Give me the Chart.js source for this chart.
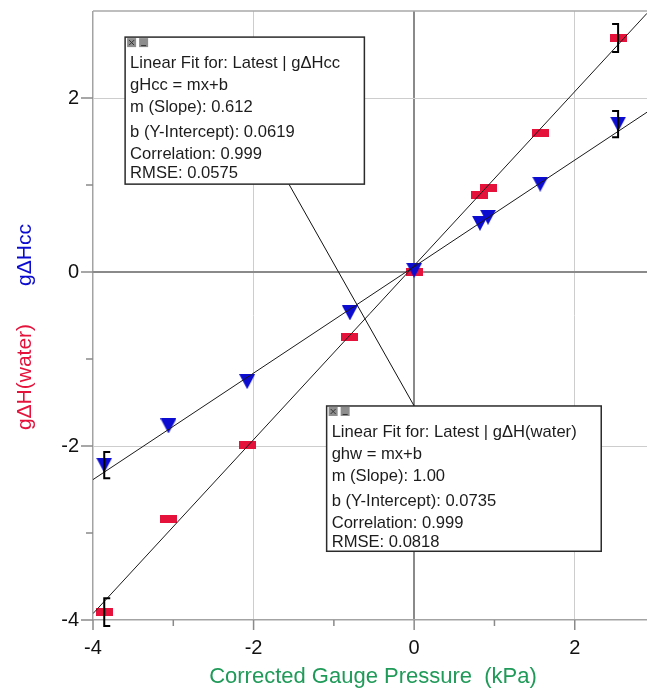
<!DOCTYPE html>
<html>
<head>
<meta charset="utf-8">
<script src="https://cdn.jsdelivr.net/npm/chart.js@4.4.1/dist/chart.umd.min.js"></script>
<style>
  html, body { margin: 0; padding: 0; background: #fff; overflow: hidden; }
  canvas { display: block; }
</style>
</head>
<body>
<canvas id="fitChart" width="647" height="693"></canvas>
<script>
// values
const pressure = [-3.86, -3.06, -2.08, -0.80, 0.00, 0.82, 0.92, 1.57, 2.54];
const ghWater  = [-3.91, -2.84, -1.99, -0.75, 0.00, 0.89, 0.96, 1.60, 2.69];
const ghCc     = [-2.22, -1.77, -1.26, -0.47, 0.02, 0.56, 0.63, 1.01, 1.70];
const errWater = [0.16, 0, 0, 0, 0, 0, 0, 0, 0.16];
const errCc    = [0.15, 0, 0, 0, 0, 0, 0, 0, 0.15];

// fits as reported in the boxes
const fitWater = { m: 1.00, b: 0.0735 };
const fitCc    = { m: 0.612, b: 0.0619 };

const xRange = [-4, 2.9];
const yRange = [-4, 3.0];
const xTicks = [-4, -2, 0, 2];
const yTicks = [-4, -2, 0, 2];
const xMinor = [-3, -1, 1];
const yMinor = [-3, -1, 1];

const ccLines = ['Linear Fit for: Latest | gΔHcc', 'gHcc = mx+b', 'm (Slope): 0.612',
    'b (Y-Intercept): 0.0619', 'Correlation: 0.999', 'RMSE: 0.0575'];
const waterLines = ['Linear Fit for: Latest | gΔH(water)', 'ghw = mx+b', 'm (Slope): 1.00',
    'b (Y-Intercept): 0.0735', 'Correlation: 0.999', 'RMSE: 0.0818'];

const FONT = '"Liberation Sans", Arial, sans-serif';
const RED = '#e5133c';
const BLUE = '#0c0cd0';
const GREEN = '#1f9a58';

// box placement in axis units
const ccBox = { x0: -3.60, x1: -0.62, y0: 2.70, y1: 1.01, lines: ccLines };
const waterBox = { x0: -1.09, x1: 2.33, y0: -1.54, y1: -3.21, lines: waterLines };
const leader = { x0: -1.56, y0: 1.01, x1: 0.0, y1: -1.54 };
const lineOffsets = [26, 48, 70.5, 95.5, 117.5, 136.5];

function rectMarker(w, h, color) {
    const c = document.createElement('canvas');
    c.width = w; c.height = h;
    const g = c.getContext('2d');
    g.fillStyle = color;
    g.fillRect(0, 0, w, h);
    return c;
}

function triMarker(w, h, color) {
    const c = document.createElement('canvas');
    c.width = w; c.height = h;
    const g = c.getContext('2d');
    g.fillStyle = color;
    g.beginPath();
    g.moveTo(0, 0); g.lineTo(w, 0); g.lineTo(w / 2, h);
    g.closePath();
    g.fill();
    return c;
}

function fitPoints(fit) {
    return xRange.map(x => ({ x: x, y: fit.m * x + fit.b }));
}

function drawBox(ctx, xs, ys, box) {
    const l = xs.getPixelForValue(box.x0), r = xs.getPixelForValue(box.x1);
    const t = ys.getPixelForValue(box.y0), b = ys.getPixelForValue(box.y1);
    ctx.fillStyle = '#fff';
    ctx.fillRect(l, t, r - l, b - t);
    ctx.strokeStyle = '#2b2b2b';
    ctx.lineWidth = 1.5;
    ctx.strokeRect(l, t, r - l, b - t);

    // little close / minimise buttons
    ctx.fillStyle = '#8e8e8e';
    ctx.fillRect(l + 2, t + 1, 9, 9);
    ctx.fillRect(l + 14, t + 1, 9, 9);
    ctx.strokeStyle = '#333';
    ctx.lineWidth = 1;
    ctx.beginPath();
    ctx.moveTo(l + 4, t + 3); ctx.lineTo(l + 9, t + 8);
    ctx.moveTo(l + 9, t + 3); ctx.lineTo(l + 4, t + 8);
    ctx.moveTo(l + 16, t + 8.5); ctx.lineTo(l + 21, t + 8.5);
    ctx.stroke();

    ctx.font = '16.6px ' + FONT;
    ctx.fillStyle = '#1c1c1c';
    ctx.textAlign = 'left';
    ctx.textBaseline = 'middle';
    box.lines.forEach((txt, i) => ctx.fillText(txt, l + 5, t + lineOffsets[i]));
}

const decorations = {
    id: 'decorations',
    afterDatasetsDraw(chart) {
        const ctx = chart.ctx;
        const ys = chart.scales.y;
        // end-point brackets
        ctx.save();
        ctx.strokeStyle = '#000';
        ctx.lineWidth = 2;
        [[0, ghWater, errWater], [1, ghCc, errCc]].forEach(([di, vals, errs]) => {
            const meta = chart.getDatasetMeta(di);
            errs.forEach((e, i) => {
                if (!e) return;
                const px = meta.data[i].x;
                const top = ys.getPixelForValue(vals[i] + e);
                const bot = ys.getPixelForValue(vals[i] - e);
                const dir = pressure[i] < 0 ? 6 : -6;
                ctx.beginPath();
                ctx.moveTo(px + dir, top); ctx.lineTo(px, top);
                ctx.lineTo(px, bot); ctx.lineTo(px + dir, bot);
                ctx.stroke();
            });
        });
        ctx.restore();
    },
    afterDraw(chart) {
        const ctx = chart.ctx;
        const xs = chart.scales.x, ys = chart.scales.y;
        const area = chart.chartArea;
        ctx.save();

        // top frame line
        ctx.strokeStyle = '#a9a9a9';
        ctx.lineWidth = 1.5;
        ctx.beginPath();
        ctx.moveTo(area.left, area.top); ctx.lineTo(area.right, area.top);
        ctx.stroke();

        // tick marks
        ctx.strokeStyle = '#8a8a8a';
        ctx.lineWidth = 1.5;
        ctx.beginPath();
        xTicks.concat(xMinor).forEach(v => {
            const px = xs.getPixelForValue(v);
            const len = xTicks.includes(v) ? 10 : 6;
            ctx.moveTo(px, area.bottom); ctx.lineTo(px, area.bottom + len);
        });
        yTicks.concat(yMinor).forEach(v => {
            const py = ys.getPixelForValue(v);
            const len = yTicks.includes(v) ? 12 : 7;
            ctx.moveTo(area.left, py); ctx.lineTo(area.left - len, py);
        });
        ctx.stroke();

        // leader line between the two fit boxes
        ctx.strokeStyle = '#111';
        ctx.lineWidth = 1;
        ctx.beginPath();
        ctx.moveTo(xs.getPixelForValue(leader.x0), ys.getPixelForValue(leader.y0));
        ctx.lineTo(xs.getPixelForValue(leader.x1), ys.getPixelForValue(leader.y1));
        ctx.stroke();

        drawBox(ctx, xs, ys, ccBox);
        drawBox(ctx, xs, ys, waterBox);

        // axis titles
        ctx.textAlign = 'center';
        ctx.textBaseline = 'middle';
        ctx.font = '22px ' + FONT;
        ctx.fillStyle = GREEN;
        ctx.fillText('Corrected Gauge Pressure  (kPa)', 373, 677);

        ctx.font = '21px ' + FONT;
        ctx.save();
        ctx.translate(25, 255);
        ctx.rotate(-Math.PI / 2);
        ctx.fillStyle = BLUE;
        ctx.fillText('gΔHcc', 0, 0);
        ctx.restore();
        ctx.save();
        ctx.translate(25, 377);
        ctx.rotate(-Math.PI / 2);
        ctx.fillStyle = RED;
        ctx.fillText('gΔH(water)', 0, 0);
        ctx.restore();

        ctx.restore();
    }
};

function gridColor(c) {
    if (c.tick.value === 0) return '#8a8a8a';
    if (c.tick.value === -4) return '#a3a3a3';
    return '#cdcdcd';
}
function gridWidth(c) {
    if (c.tick.value === 0) return 2;
    if (c.tick.value === -4) return 1.5;
    return 1;
}

function noPad(s) {
    s.paddingTop = 0; s.paddingBottom = 0;
    s.paddingLeft = 0; s.paddingRight = 0;
}

new Chart(document.getElementById('fitChart'), {
    type: 'scatter',
    data: {
        datasets: [
            {
                label: 'gΔH(water)',
                data: pressure.map((x, i) => ({ x: x, y: ghWater[i] })),
                pointStyle: rectMarker(17, 8, RED),
                pointRadius: 8,
                order: 2
            },
            {
                label: 'gΔHcc',
                data: pressure.map((x, i) => ({ x: x, y: ghCc[i] })),
                pointStyle: triMarker(16, 15, BLUE),
                pointRadius: 8,
                order: 1
            },
            {
                // fit lines sit on top of the markers, as in Logger Pro
                label: 'fit water',
                data: fitPoints(fitWater),
                showLine: true,
                pointRadius: 0,
                borderColor: '#1a1a1a',
                borderWidth: 1,
                order: 0
            },
            {
                label: 'fit cc',
                data: fitPoints(fitCc),
                showLine: true,
                pointRadius: 0,
                borderColor: '#1a1a1a',
                borderWidth: 1,
                order: 0
            }
        ]
    },
    options: {
        responsive: false,
        animation: false,
        devicePixelRatio: 1,
        layout: { autoPadding: false, padding: { top: 11, right: 0, bottom: 0, left: 0 } },
        plugins: {
            legend: { display: false },
            tooltip: { enabled: false }
        },
        scales: {
            x: {
                type: 'linear',
                min: xRange[0],
                max: xRange[1],
                afterBuildTicks: s => { s.ticks = xTicks.map(v => ({ value: v })); },
                afterFit: s => { s.height = 73; noPad(s); },
                border: { display: false },
                grid: { drawTicks: false, color: gridColor, lineWidth: gridWidth },
                ticks: {
                    padding: 16,
                    color: '#111',
                    font: { family: FONT, size: 20 },
                    maxRotation: 0
                }
            },
            y: {
                type: 'linear',
                min: yRange[0],
                max: yRange[1],
                afterBuildTicks: s => { s.ticks = yTicks.map(v => ({ value: v })); },
                afterFit: s => { s.width = 93; noPad(s); },
                border: { display: false },
                grid: { drawTicks: false, color: gridColor, lineWidth: gridWidth },
                ticks: {
                    padding: 14,
                    color: '#111',
                    font: { family: FONT, size: 20 }
                }
            }
        }
    },
    plugins: [decorations]
});
</script>
</body>
</html>
